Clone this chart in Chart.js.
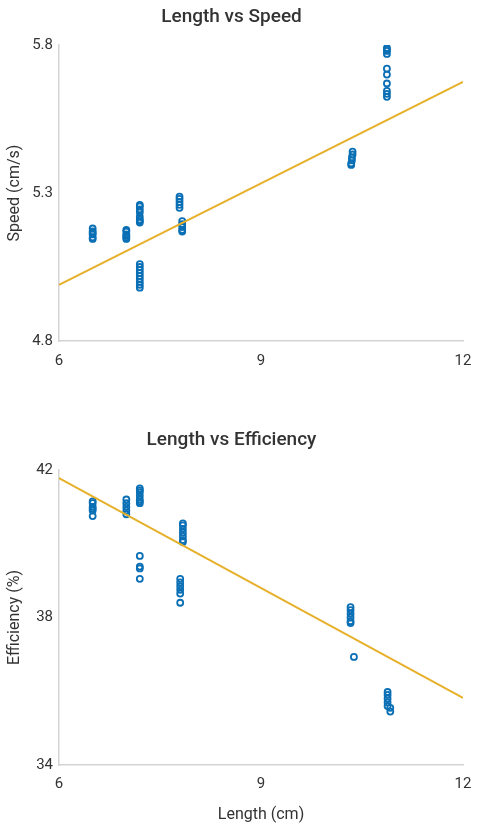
<!DOCTYPE html>
<html>
<head>
<meta charset="utf-8">
<script src="https://cdn.jsdelivr.net/npm/chart.js@4/dist/chart.umd.min.js"></script>
<style>
	html, body { margin: 0; padding: 0; background: #fff; }
	.box { position: absolute; left: 0; width: 477px; }
	#top { top: 0; height: 375px; }
	#bottom { top: 405px; height: 424px; }
</style>
</head>
<body>
<div class="box" id="top"><canvas id="speedChart"></canvas></div>
<div class="box" id="bottom"><canvas id="effChart"></canvas></div>
<script>
// Data
const speedLength = [
	6.5, 6.5, 6.5, 6.5, 6.5, 6.5,
	7.0, 7.0, 7.0, 7.0, 7.0, 7.0,
	7.2, 7.2, 7.2, 7.2, 7.2, 7.2, 7.2, 7.2,
	7.2, 7.2, 7.2, 7.2, 7.2, 7.2, 7.2, 7.2, 7.2,
	7.79, 7.79, 7.79, 7.79, 7.79,
	7.83, 7.83, 7.83, 7.83, 7.83,
	10.36, 10.36, 10.35, 10.35, 10.34, 10.34,
	10.87, 10.87, 10.87, 10.87, 10.87, 10.87, 10.87, 10.87, 10.87, 10.87
];
const speedValues = [
	5.18, 5.17, 5.165, 5.16, 5.15, 5.145,
	5.175, 5.17, 5.16, 5.155, 5.15, 5.145,
	5.26, 5.255, 5.245, 5.235, 5.22, 5.21, 5.205, 5.2,
	5.06, 5.05, 5.04, 5.03, 5.02, 5.01, 5.0, 4.99, 4.98,
	5.288, 5.28, 5.27, 5.26, 5.25,
	5.205, 5.195, 5.185, 5.175, 5.17,
	5.44, 5.43, 5.42, 5.41, 5.4, 5.395,
	5.79, 5.785, 5.78, 5.77, 5.72, 5.7, 5.67, 5.645, 5.635, 5.625
];

const effLength = [
	6.5, 6.5, 6.5, 6.5, 6.5, 6.5,
	7.0, 7.0, 7.0, 7.0, 7.0,
	7.2, 7.2, 7.2, 7.2, 7.2, 7.2, 7.2,
	7.2, 7.2, 7.2, 7.2,
	7.84, 7.84, 7.84, 7.84, 7.84, 7.84, 7.84,
	7.8, 7.8, 7.8, 7.8, 7.8, 7.8,
	10.33, 10.33, 10.33, 10.33, 10.33, 10.33,
	10.38,
	10.88, 10.88, 10.88, 10.88, 10.88, 10.92, 10.92
];
const effValues = [
	41.15, 41.1, 41.0, 40.95, 40.9, 40.75,
	41.2, 41.1, 41.0, 40.9, 40.8,
	41.5, 41.45, 41.4, 41.3, 41.2, 41.15, 41.1,
	39.67, 39.38, 39.33, 39.05,
	40.55, 40.5, 40.4, 40.3, 40.2, 40.1, 40.05,
	39.05, 38.95, 38.85, 38.75, 38.65, 38.4,
	38.28, 38.2, 38.1, 38.0, 37.9, 37.85,
	36.93,
	35.98, 35.9, 35.8, 35.7, 35.6, 35.55, 35.45
];

// Fitted lines (end points)
const fitLength = [6, 12];
const speedFit = [4.99, 5.675];
const effFit = [41.78, 35.82];

// Tick labels
const lengthTicks = [6, 9, 12];
const speedTicks = [4.8, 5.3, 5.8];
const effTicks = [34, 38, 42];

document.addEventListener('DOMContentLoaded', function() {
	const pointColor = '#0a6fb5',
		lineColor = '#E6B02A',
		axisColor = '#d4d4d4',
		textColor = '#333333';

	Chart.defaults.font.family = 'Roboto';
	Chart.defaults.color = textColor;

	function toPoints(xs, ys) {
		return xs.map(function(x, i) { return { x: x, y: ys[i] }; });
	}

	function makeChart(el, cfg) {
		return new Chart(el, {
			type: 'scatter',
			data: {
				datasets: [
					{
						data: toPoints(cfg.x, cfg.y),
						pointRadius: 3,
						pointBorderWidth: 1.8,
						borderColor: pointColor,
						backgroundColor: 'transparent',
						order: 2
					},
					{
						type: 'line',
						data: toPoints(fitLength, cfg.fit),
						borderColor: lineColor,
						borderWidth: 2,
						pointRadius: 0,
						fill: false,
						order: 1
					}
				]
			},
			options: {
				responsive: true,
				maintainAspectRatio: false,
				animation: false,
				layout: { padding: { left: 0, right: 14, top: 0, bottom: 0 } },
				plugins: {
					legend: { display: false },
					tooltip: { enabled: false },
					title: {
						display: true,
						text: cfg.title,
						color: textColor,
						font: { size: 19, weight: '500' },
						padding: cfg.titlePad
					}
				},
				scales: {
					x: {
						type: 'linear',
						min: 6,
						max: 12,
						afterBuildTicks: function(s) { s.ticks = lengthTicks.map(function(v) { return { value: v }; }); },
						afterFit: function(s) {
							s.height = cfg.xHeight;
							s.paddingLeft = 0;
							s.paddingRight = 0;
						},
						grid: { display: false, drawTicks: false },
						border: { display: true, color: axisColor, width: 1.5 },
						ticks: { padding: cfg.xPad, font: { size: 15 }, color: textColor, maxRotation: 0 },
						title: {
							display: !!cfg.xTitle,
							text: cfg.xTitle || '',
							font: { size: 16 },
							color: textColor,
							padding: { top: 0, bottom: 4.4 }
						}
					},
					y: {
						min: cfg.yMin,
						max: cfg.yMax,
						afterBuildTicks: function(s) { s.ticks = cfg.yTicks.map(function(v) { return { value: v }; }); },
						afterFit: function(s) { s.width = 59; },
						grid: { display: false, drawTicks: false },
						border: { display: true, color: axisColor, width: 1.5 },
						ticks: { padding: 6, font: { size: 15 }, color: textColor },
						title: {
							display: true,
							text: cfg.yTitle,
							font: { size: 16 },
							color: textColor,
							padding: { top: 5.4, bottom: 0 }
						}
					}
				}
			}
		});
	}

	makeChart(document.getElementById('speedChart'), {
		x: speedLength,
		y: speedValues,
		fit: speedFit,
		title: 'Length vs Speed',
		titlePad: { top: 5.6, bottom: 16.6 },
		yTitle: 'Speed (cm/s)',
		yMin: 4.8,
		yMax: 5.8,
		yTicks: speedTicks,
		xHeight: 34,
		xPad: 11
	});

	makeChart(document.getElementById('effChart'), {
		x: effLength,
		y: effValues,
		fit: effFit,
		title: 'Length vs Efficiency',
		titlePad: { top: 23.6, bottom: 18.6 },
		yTitle: 'Efficiency (%)',
		yMin: 34,
		yMax: 42,
		yTicks: effTicks,
		xTitle: 'Length (cm)',
		xHeight: 64,
		xPad: 10
	});
});
</script>
</body>
</html>
